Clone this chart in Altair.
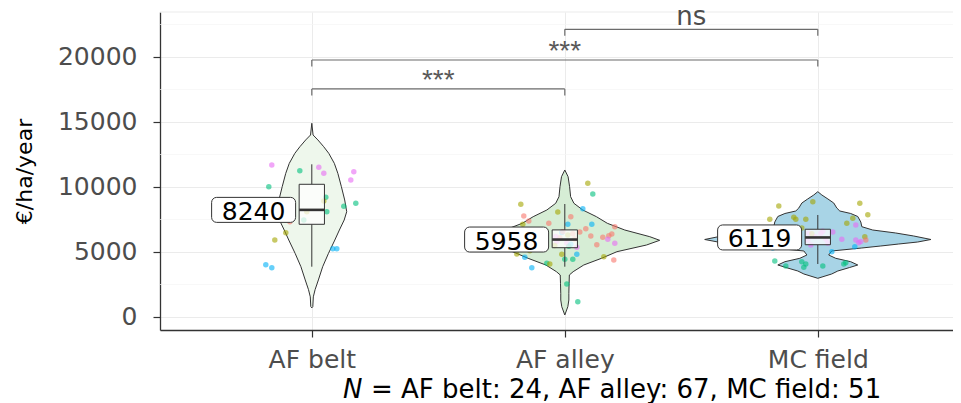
import altair as alt
import pandas as pd

# ---------------- data ----------------
categories = ["AF belt", "AF alley", "MC field"]
positions = [1, 2, 3]
counts = [24, 67, 51]
medians = [8240, 5958, 6119]
q1 = [7131, 5330, 5560]
q3 = [10208, 6700, 6750]
whisker_lo = [3869, 3869, 4077]
whisker_hi = [11746, 8692, 7846]
violin_fill = ["#EEF7EC", "#D6EDD5", "#A8D4E6"]
point_palette = ["#F8766D", "#A3A500", "#00BF7D", "#00B0F6", "#E76BF3"]

# violin profiles (value, half-width in category units)
belt_v = [700, 800, 1550, 2100, 2850, 3870, 4900, 5920, 6690, 7460, 8100, 9000,
          10020, 11050, 11820, 12590, 13100, 13620, 14000, 14900]
belt_w = [0.0, 0.004, 0.006, 0.013, 0.026, 0.043, 0.066, 0.091, 0.109, 0.128, 0.138, 0.130,
          0.117, 0.103, 0.089, 0.067, 0.047, 0.024, 0.005, 0.0]
alley_v = [154, 792, 1308, 1823, 2592, 3231, 3485, 4000, 4515, 5023, 5538, 5900, 6177,
           6692, 7208, 7715, 8231, 8746, 9254, 10023, 10792, 11308]
alley_w = [0.0, 0.012, 0.016, 0.016, 0.017, 0.018, 0.033, 0.075, 0.145, 0.206, 0.323, 0.375,
           0.336, 0.237, 0.168, 0.125, 0.071, 0.036, 0.023, 0.019, 0.013, 0.0]
mc_v = [2977, 3308, 3538, 3808, 4000, 4254, 4515, 4769, 5077, 5308, 5462, 5615, 5769, 5962,
        6231, 6462, 6692, 6946, 7308, 7731, 7962, 8154, 8385, 8769, 9077, 9385, 9638]
mc_w = [0.0, 0.055, 0.079, 0.126, 0.158, 0.130, 0.071, 0.043, 0.055, 0.174, 0.249, 0.320,
        0.395, 0.447, 0.379, 0.308, 0.217, 0.174, 0.170, 0.158, 0.130, 0.087, 0.075, 0.063,
        0.040, 0.016, 0.0]

# jittered observations: value, jitter (1/253 of a category step), colour group
belt_pts = [(11692, -40, 4), (11254, -12, 2), (11515, 7, 4), (11054, 12, 4), (11177, 42, 4),
            (10538, 39, 4), (10023, -43, 2), (9208, 14, 2), (8923, 12, 1), (8100, 15, 2),
            (8515, 32, 2), (8746, 44, 2), (7331, -22, 0), (7462, -8, 2), (6485, -26, 1),
            (5923, -37, 1), (5254, 21, 3), (5254, 25, 3), (4023, -46, 3), (3792, -40, 3),
            (8100, -5, 1), (8600, -35, 0), (7900, -28, 0), (8300, -42, 1)]
alley_pts = [(10285, 23, 1), (9462, 28, 2), (8669, -44, 1), (8331, 18, 3), (8077, -7, 1),
             (7769, -41, 0), (7385, -36, 0), (7715, 6, 0), (7208, -16, 0), (7131, 3, 3),
             (7131, 27, 3), (7131, -42, 1), (6792, 21, 0), (6538, 15, 0), (6946, 50, 0),
             (6385, 47, 0), (6231, 26, 0), (6131, 38, 0), (6254, 44, 0), (5977, 43, 4),
             (5669, 50, 4), (5562, 32, 0), (5362, 12, 4), (4823, 12, 3), (4385, 49, 0),
             (4638, 39, 1), (4823, -3, 1), (4846, -48, 1), (4592, -40, 3), (3792, -33, 3),
             (4131, -18, 2), (4077, -15, 1), (4438, 0, 2), (4438, 8, 2), (2538, 2, 2),
             (1177, 13, 2),
             (5800, -8, 4), (5700, 2, 4), (6100, -5, 0), (6400, 8, 0), (5500, -10, 1),
             (6500, -3, 3), (6000, 10, 0), (6300, 3, 1), (5600, 6, 3), (6550, -2, 0),
             (5450, 4, 2), (6200, -9, 4),
             (5400, -25, 1), (6000, -30, 0), (6300, -38, 0), (5600, -45, 2), (5200, -50, 3),
             (5100, -35, 1), (6600, -55, 0), (5900, -60, 4), (6700, -22, 2), (6150, -28, 3),
             (5700, -42, 1), (6200, -65, 2), (5800, -75, 0), (6100, -85, 1), (5500, -70, 4),
             (6400, -48, 3), (5300, -58, 2), (6000, -90, 0), (5650, -33, 0)]
mc_pts = [(8538, -39, 1), (8869, -5, 1), (8746, 42, 1), (7869, 50, 1), (7515, -48, 1),
          (7669, -24, 1), (7515, -22, 1), (7515, -12, 1), (7592, 35, 1), (7208, 29, 1),
          (7077, 38, 4), (6177, 47, 1), (5977, 24, 4), (5923, 38, 4), (5715, 41, 4),
          (5923, 48, 0), (6438, -9, 4), (6438, 3, 4), (5538, -7, 4), (5023, 14, 3),
          (5408, 37, 3), (4308, -43, 2), (3923, -32, 2), (4254, -16, 2), (4077, -12, 2),
          (3823, -14, 2), (3923, 5, 2), (4077, 26, 2), (4177, 28, 2), (6846, -16, 1),
          (6538, 15, 4), (5800, 43, 4),
          (6000, 8, 4), (6200, -3, 4), (5700, 10, 4), (6400, -6, 1), (5900, -10, 4),
          (6600, 5, 4),
          (6800, -25, 1), (6300, -40, 1), (5900, -30, 4), (6100, -50, 4), (5600, -35, 0),
          (5300, -45, 3), (6600, -60, 1), (6000, -70, 4), (5500, -80, 0), (6400, -90, 1),
          (5800, -22, 4), (6200, -28, 1), (5400, -65, 3)]

# significance brackets
br_from = [1, 1, 2]
br_to = [2, 3, 3]
br_y = [17540, 19770, 22130]
br_tip = 500
br_label = ["***", "***", "ns"]

minor_grid = [2500, 7500, 12500, 17500, 22500]
y_ticks = [0, 5000, 10000, 15000, 20000]
JIT_UNIT = 253.0

# ---------------- tables ----------------
violin_dfs = []
for cat, pos, vv, ww in zip(categories, positions, [belt_v, alley_v, mc_v], [belt_w, alley_w, mc_w]):
    violin_dfs.append(pd.DataFrame({"group": cat, "value": vv,
                                    "xa": [pos - w for w in ww], "xb": [pos + w for w in ww]}))

prows = []
for cat, pos, pts in zip(categories, positions, [belt_pts, alley_pts, mc_pts]):
    for v, j, c in pts:
        prows.append({"group": cat, "xp": pos + j / JIT_UNIT, "value": v, "col": str(c)})
points_df = pd.DataFrame(prows)

box_df = pd.DataFrame({"group": categories, "pos": positions, "q1": q1, "q3": q3,
                       "med": medians, "lo": whisker_lo, "hi": whisker_hi,
                       "lab": [str(m) for m in medians]})

br_df = pd.DataFrame({"x1": br_from, "x2": br_to, "y": br_y, "lab": br_label})
br_df["ytip"] = br_df["y"] - br_tip
br_df["xm"] = (br_df["x1"] + br_df["x2"]) / 2

minor_df = pd.DataFrame({"v": minor_grid})
caption_rest = "= " + ", ".join(f"{c}: {n}" for c, n in zip(categories, counts))
cap_df = pd.DataFrame({"n": ["N"], "t": [caption_rest]})

# ---------------- scales / axes ----------------
W, H = 801, 318
xscale = alt.Scale(domain=[0.4, 0.4 + W / 253.0], nice=False, zero=False)
yscale = alt.Scale(domain=[-1000, 23461], nice=False, zero=False)
label_expr = "[" + ",".join(f"'{c}'" for c in categories) + "][datum.value - 1]"

xaxis = alt.Axis(values=positions, labelExpr=label_expr, title=None, grid=True,
                 gridColor="#EBEBEB", gridWidth=1, tickSize=7, labelPadding=10,
                 labelFontSize=25, labelColor="#4D4D4D", labelFont="DejaVu Sans",
                 domainColor="#333333", tickColor="#333333", domainWidth=1.3, tickWidth=1.2)
yaxis = alt.Axis(values=y_ticks, format="d", title="€/ha/year", grid=True,
                 gridColor="#EBEBEB", gridWidth=1, tickSize=7, labelPadding=16,
                 labelFontSize=25, labelColor="#4D4D4D", labelFont="DejaVu Sans",
                 domainColor="#333333", tickColor="#333333", domainWidth=1.3, tickWidth=1.2,
                 titleFont="DejaVu Sans", titleFontSize=22, titleFontWeight="normal",
                 titleColor="black", titleAngle=270, titleX=-129, titleY=H / 2,
                 titleBaseline="alphabetic", titleAlign="center")


def X(field, **kw):
    return alt.X(field, scale=xscale, axis=xaxis, title=None, **kw)


def Y(field, **kw):
    return alt.Y(field, scale=yscale, axis=yaxis, title="€/ha/year", **kw)


axes_df = pd.DataFrame({"x": [positions[0]], "y": [0]})
axes_layer = alt.Chart(axes_df).mark_point(opacity=0).encode(x=X("x:Q"), y=Y("y:Q"))

minor = alt.Chart(minor_df).mark_rule(color="#F3F3F3", strokeWidth=0.7).encode(
    y=Y("v:Q"), x=alt.value(0), x2=alt.value(W))
top_line = alt.Chart(axes_df).mark_rule(color="#EBEBEB", strokeWidth=1).encode(
    y=alt.value(0), x=alt.value(0), x2=alt.value(W))

violins = []
for df, fillc in zip(violin_dfs, violin_fill):
    violins.append(alt.Chart(df).mark_area(orient="horizontal", fill=fillc, stroke="#333333",
                                           strokeWidth=1, opacity=1).encode(
        y=Y("value:Q"), x=X("xa:Q", stack=None), x2="xb:Q"))

points = alt.Chart(points_df).mark_circle(size=30, opacity=0.6).encode(
    x=X("xp:Q"), y=Y("value:Q"),
    fill=alt.Fill("col:N", scale=alt.Scale(domain=["0", "1", "2", "3", "4"], range=point_palette),
                  legend=None))

box_base = alt.Chart(box_df).transform_calculate(
    bx1="datum.pos - 0.05", bx2="datum.pos + 0.05", lx="datum.pos - 0.23")

wh_lo = box_base.mark_rule(color="#333333", strokeWidth=1).encode(
    x=X("pos:Q"), y=Y("lo:Q"), y2="q1:Q")
wh_hi = box_base.mark_rule(color="#333333", strokeWidth=1).encode(
    x=X("pos:Q"), y=Y("q3:Q"), y2="hi:Q")
box = box_base.mark_rect(fill="white", fillOpacity=0.75, stroke="#333333", strokeWidth=1).encode(
    x=X("bx1:Q"), x2="bx2:Q", y=Y("q1:Q"), y2="q3:Q")
med = box_base.mark_rule(color="#333333", strokeWidth=2.6).encode(
    x=X("bx1:Q"), x2="bx2:Q", y=Y("med:Q"))
lab_bg = box_base.mark_rect(width=84, height=25, cornerRadius=5, fill="white",
                            stroke="#333333", strokeWidth=1).encode(
    x=X("lx:Q"), y=Y("med:Q"))
lab_txt = box_base.mark_text(font="DejaVu Sans", fontSize=25, color="black",
                             align="center", baseline="middle", dy=2).encode(
    x=X("lx:Q"), y=Y("med:Q"), text="lab:N")

br_h = alt.Chart(br_df).mark_rule(color="#6B6B6B", strokeWidth=1.2).encode(
    x=X("x1:Q"), x2="x2:Q", y=Y("y:Q"))
br_l = alt.Chart(br_df).mark_rule(color="#6B6B6B", strokeWidth=1.2).encode(
    x=X("x1:Q"), y=Y("ytip:Q"), y2="y:Q")
br_r = alt.Chart(br_df).mark_rule(color="#6B6B6B", strokeWidth=1.2).encode(
    x=X("x2:Q"), y=Y("ytip:Q"), y2="y:Q")
stars = alt.Chart(br_df).transform_filter("datum.lab != 'ns'").mark_text(
    font="Liberation Sans", fontSize=28, color="#595959", baseline="alphabetic", dy=0).encode(
    x=X("xm:Q"), y=Y("y:Q"), text="lab:N")
ns = alt.Chart(br_df).transform_filter("datum.lab == 'ns'").mark_text(
    font="DejaVu Sans", fontSize=26, color="#4D4D4D", baseline="alphabetic", dy=-4).encode(
    x=X("xm:Q"), y=Y("y:Q"), text="lab:N")

cap_n = alt.Chart(cap_df).mark_text(font="DejaVu Sans", fontSize=26, fontStyle="italic",
                                    color="black", align="left", baseline="middle").encode(
    x=alt.value(183), y=alt.value(378), text="n:N")
cap_t = alt.Chart(cap_df).mark_text(font="DejaVu Sans", fontSize=26, color="black",
                                    align="left", baseline="middle").encode(
    x=alt.value(211), y=alt.value(378), text="t:N")

chart = alt.layer(axes_layer, minor, top_line, *violins, points, wh_lo, wh_hi, box, med,
                  lab_bg, lab_txt, br_h, br_l, br_r, stars, ns, cap_n, cap_t).properties(
    width=W, height=H,
    padding={"left": 152, "top": 4, "right": -8, "bottom": 73},
    autosize=alt.AutoSizeParams(type="none"),
    background="white",
).configure_view(stroke=None)

chart.save("out.html", embed_options={"renderer": "svg", "actions": False})
